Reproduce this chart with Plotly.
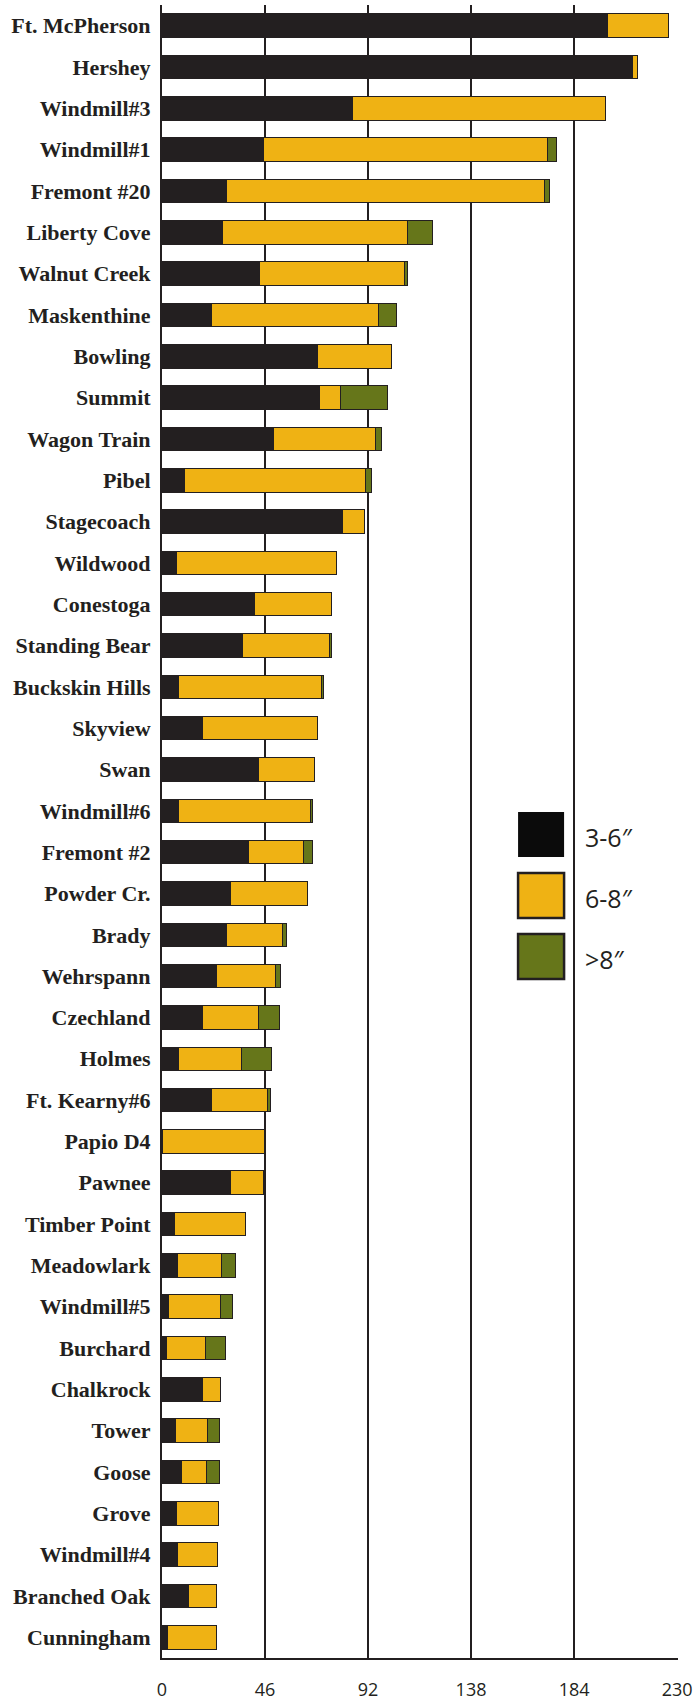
import plotly.graph_objects as go

sites = ["Ft. McPherson", "Hershey", "Windmill#3", "Windmill#1", "Fremont #20", "Liberty Cove",
         "Walnut Creek", "Maskenthine", "Bowling", "Summit", "Wagon Train", "Pibel", "Stagecoach",
         "Wildwood", "Conestoga", "Standing Bear", "Buckskin Hills", "Skyview", "Swan", "Windmill#6",
         "Fremont #2", "Powder Cr.", "Brady", "Wehrspann", "Czechland", "Holmes", "Ft. Kearny#6",
         "Papio D4", "Pawnee", "Timber Point", "Meadowlark", "Windmill#5", "Burchard", "Chalkrock",
         "Tower", "Goose", "Grove", "Windmill#4", "Branched Oak", "Cunningham"]

size_3_6 = [199, 210, 85, 45.5, 29, 27, 43.5, 22, 69.5, 70.3, 50, 10, 80.6,
            6.4, 41.3, 35.8, 7.5, 17.9, 43.1, 7.5, 38.5, 30.4, 28.8, 24.2, 18.1, 7.5, 22,
            0, 30.8, 5.4, 7.1, 3, 1.8, 17.9, 6, 8.5, 6.6, 7.1, 11.9, 2.4]
size_6_8 = [27, 2.5, 113, 126.7, 141.8, 82.6, 65, 74.7, 32.8, 9.5, 45.5, 81, 10,
            71.3, 34.6, 39, 63.6, 51.6, 25, 58.8, 24.9, 34.5, 25.2, 26.6, 24.8, 27.9, 25.3,
            45.9, 14.3, 31.9, 19.3, 23.2, 17.5, 8.3, 14.3, 11.4, 18.6, 17.5, 12.3, 22]
size_over_8 = [0, 0, 0, 3.8, 2.4, 11, 1, 8.2, 0, 20.9, 2.4, 2.5, 0,
               0, 0, 0.8, 1, 0, 0, 1, 3.7, 0, 1.4, 2, 9.7, 13.5, 1.2,
               0, 0, 0, 6.6, 5.2, 8.9, 0, 5.3, 5.7, 0, 0, 0, 0]

series_names = ["3-6\u2033", "6-8\u2033", ">8\u2033"]
series_colors = ["#231f20", "#efb214", "#66761a"]
legend_colors = ["#0b0b0b", "#efb214", "#66761a"]
x_ticks = [0, 46, 92, 138, 184, 230]
x_max = 230.4

DARK = "#231f20"
fig = go.Figure()
for name, vals, col in zip(series_names, [size_3_6, size_6_8, size_over_8], series_colors):
    fig.add_trace(go.Bar(
        y=sites, x=vals, orientation="h", name=name,
        marker=dict(color=col, line=dict(color=DARK, width=1)),
        width=0.57, showlegend=False,
    ))

# Layout geometry (pixels)
L, T = 162, 5
W, H = 515 * x_max / 230, 1653
def px(x):
    return (x - L) / W
def py(y):
    return (T + H - y) / H

swatch_rows = [(812, 857), (873, 918), (934, 979)]
for i, ((y0, y1), name, col) in enumerate(zip(swatch_rows, series_names, legend_colors)):
    fig.add_shape(type="rect", xref="paper", yref="paper",
                  x0=px(518), x1=px(564), y0=py(y1), y1=py(y0),
                  fillcolor=col,
                  line=dict(color=DARK, width=0 if i == 0 else 2.5))
    fig.add_annotation(xref="paper", yref="paper", x=px(583), y=py((y0 + y1) / 2 + 2),
                       text=name, showarrow=False, xanchor="left", yanchor="middle",
                       font=dict(family="Open Sans", size=25, color=DARK))

fig.update_layout(
    barmode="stack",
    width=698, height=1705,
    margin=dict(l=L, r=698 - L - W, t=T, b=1705 - T - H, autoexpand=False),
    plot_bgcolor="white", paper_bgcolor="white",
    xaxis=dict(range=[0, x_max], tickvals=x_ticks, ticktext=[str(v) for v in x_ticks],
               showgrid=True, gridcolor=DARK, gridwidth=2,
               showline=True, linecolor=DARK, linewidth=2, automargin=False,
               zeroline=False, ticks="", ticklabelstandoff=14,
               tickfont=dict(family="Open Sans", size=18, color=DARK)),
    yaxis=dict(categoryorder="array", categoryarray=sites, range=[39.5, -0.5],
               showgrid=False, showline=True, linecolor=DARK, linewidth=2,
               ticks="", ticklabelstandoff=5, automargin=False,
               tickfont=dict(family="Liberation Serif", size=22, color=DARK, weight="bold")),
)

fig.write_html("out.html", config={"displayModeBar": False},
               post_script="document.body.style.margin='0';document.body.style.overflow='hidden';")
